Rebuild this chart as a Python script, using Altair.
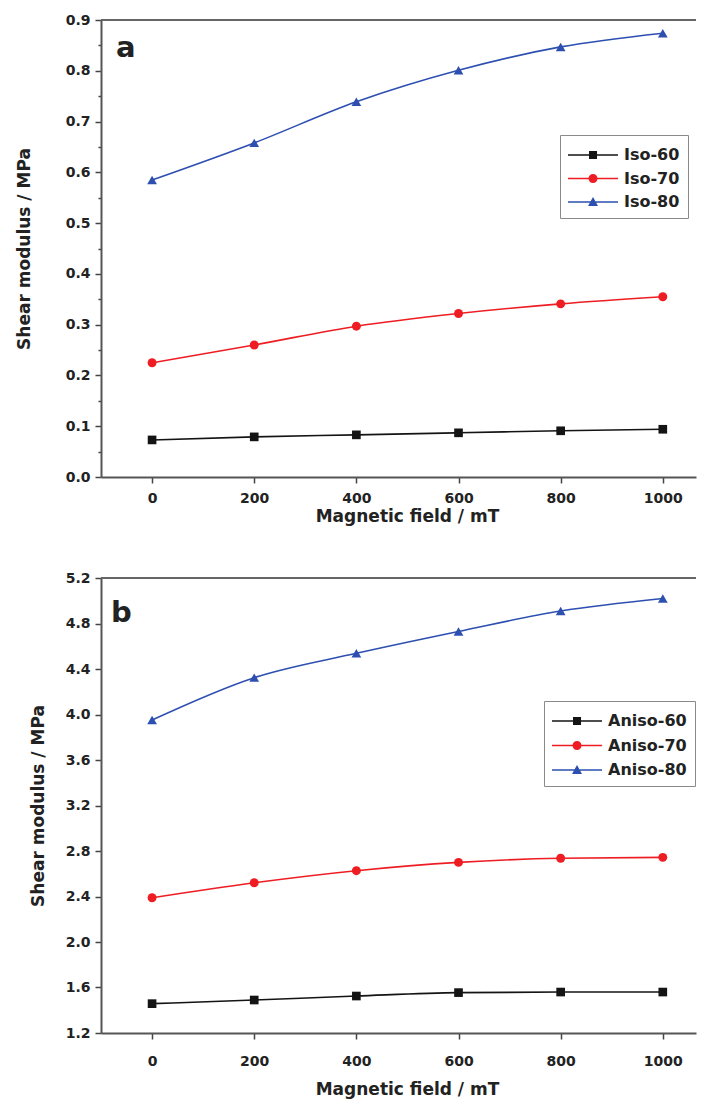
import altair as alt
import pandas as pd

field_mT = [0, 200, 400, 600, 800, 1000]

iso_names = ["Iso-60", "Iso-70", "Iso-80"]
iso_60 = [0.073, 0.079, 0.083, 0.087, 0.091, 0.094]
iso_70 = [0.225, 0.260, 0.297, 0.322, 0.341, 0.355]
iso_80 = [0.585, 0.658, 0.739, 0.801, 0.847, 0.874]

aniso_names = ["Aniso-60", "Aniso-70", "Aniso-80"]
aniso_60 = [1.458, 1.49, 1.525, 1.555, 1.56, 1.56]
aniso_70 = [2.389, 2.521, 2.627, 2.70, 2.736, 2.744]
aniso_80 = [3.952, 4.324, 4.538, 4.73, 4.91, 5.02]

x_ticks = [0, 200, 400, 600, 800, 1000]
iso_y_ticks = [0.0, 0.05, 0.1, 0.15, 0.2, 0.25, 0.3, 0.35, 0.4, 0.45,
               0.5, 0.55, 0.6, 0.65, 0.7, 0.75, 0.8, 0.85, 0.9]
aniso_y_ticks = [1.2, 1.6, 2.0, 2.4, 2.8, 3.2, 3.6, 4.0, 4.4, 4.8, 5.2]

colors = ["#141414", "#ee1d23", "#2d4fb0"]
point_shapes = ["square", "circle", "triangle-up"]
point_sizes = [75, 80, 95]

LINE = "M-1,-0.067H3.17V0.067H-1Z"
legend_paths = [
    LINE + "M0.75,-0.33H1.42V0.33H0.75Z",
    LINE + "M1.46,0A0.375,0.375 0 1 1 0.71,0A0.375,0.375 0 1 1 1.46,0Z",
    LINE + "M1.085,-0.42L1.5,0.33L0.67,0.33Z",
]

W = 595
FONT = "DejaVu Sans"


def panel(names, series, y_domain, y_values, minor, legend_x, legend_y, row_pad,
          letter, letter_x, letter_y, height, y_title_pad, x_label_pad, x_title_pad):
    rows = []
    for name, vals in zip(names, series):
        for fx, v in zip(field_mT, vals):
            rows.append({"field": fx, "value": v, "series": name})
    df = pd.DataFrame(rows)
    base = alt.Chart(df)

    x = alt.X("field:Q",
              scale=alt.Scale(domain=[-100, 1065], nice=False, zero=False),
              axis=alt.Axis(values=x_ticks, format="d", title="Magnetic field / mT",
                            tickSize=6, labelPadding=x_label_pad, titlePadding=x_title_pad,
                            titleX=306, titleAlign="center", labelOverlap=False))
    if minor:
        test = "abs(datum.value*10 - round(datum.value*10)) < 0.001"
        yaxis = alt.Axis(values=y_values, title="Shear modulus / MPa",
                         labelExpr="(" + test + ") ? format(datum.value, '.1f') : ''",
                         tickSize={"condition": {"test": test, "value": 6}, "value": 3},
                         labelPadding=5, titlePadding=y_title_pad, labelOverlap=False)
    else:
        yaxis = alt.Axis(values=y_values, title="Shear modulus / MPa", format=".1f",
                         tickSize=6, labelPadding=5, titlePadding=y_title_pad,
                         labelOverlap=False)
    y = alt.Y("value:Q", scale=alt.Scale(domain=y_domain, nice=False, zero=False), axis=yaxis)

    layers = []
    for name, col, shp, sz in zip(names, colors, point_shapes, point_sizes):
        sub = base.transform_filter(alt.datum.series == name)
        layers.append(sub.mark_line(color=col, strokeWidth=1.6, interpolate="monotone")
                      .encode(x=x, y=y))
        layers.append(sub.mark_point(filled=True, shape=shp, size=sz, color=col, opacity=1)
                      .encode(x=x, y=y))

    leg = alt.Legend(orient="none", legendX=legend_x, legendY=legend_y, title=None,
                     strokeColor="#8a8a8a", padding=8, labelFont=FONT, labelFontSize=16,
                     labelFontWeight="bold", labelColor="#222222", labelOffset=32,
                     rowPadding=row_pad, symbolOpacity=1, symbolStrokeWidth=0,
                     symbolSize=576)
    legend_layer = base.transform_filter("false").mark_point(
        filled=True, size=576, opacity=1).encode(
        color=alt.Color("series:N", scale=alt.Scale(domain=names, range=colors), legend=leg),
        shape=alt.Shape("series:N", scale=alt.Scale(domain=names, range=legend_paths), legend=leg),
    )

    top_rule = alt.Chart(pd.DataFrame({"k": [0]})).mark_rule(
        color="#666666", strokeWidth=2).encode(
        x=alt.value(0), x2=alt.value(W), y=alt.value(0))

    letter_layer = alt.Chart(pd.DataFrame({"t": [letter]})).mark_text(
        font=FONT, fontSize=29, fontWeight="bold", color="#222222",
        align="left", baseline="alphabetic").encode(
        text="t:N", x=alt.value(letter_x), y=alt.value(letter_y))

    return alt.layer(*layers, legend_layer, top_rule, letter_layer).properties(
        width=W, height=height)


top = panel(iso_names, [iso_60, iso_70, iso_80], [0, 0.9], iso_y_ticks, True,
            459, 115, 3.5, "a", 15, 37, 457, 32, 8, 3)
bottom = panel(aniso_names, [aniso_60, aniso_70, aniso_80], [1.2, 5.2], aniso_y_ticks, False,
               443, 123, 4.5, "b", 10, 44, 455, 18, 15, 13)

chart = alt.vconcat(top, bottom, spacing=101, bounds="flush").resolve_scale(
    color="independent", shape="independent"
).properties(
    padding={"left": 7, "top": 5, "right": 0, "bottom": 3}
).configure_view(strokeWidth=0).configure_axis(
    grid=False,
    domainColor="#555555", domainWidth=2,
    tickColor="#444444", tickWidth=1.5,
    labelFont=FONT, labelFontSize=14, labelFontWeight="bold", labelColor="#222222",
    titleFont=FONT, titleFontSize=17, titleFontWeight="bold", titleColor="#222222",
)

chart.save("out.html", embed_options={"renderer": "svg", "actions": False})
